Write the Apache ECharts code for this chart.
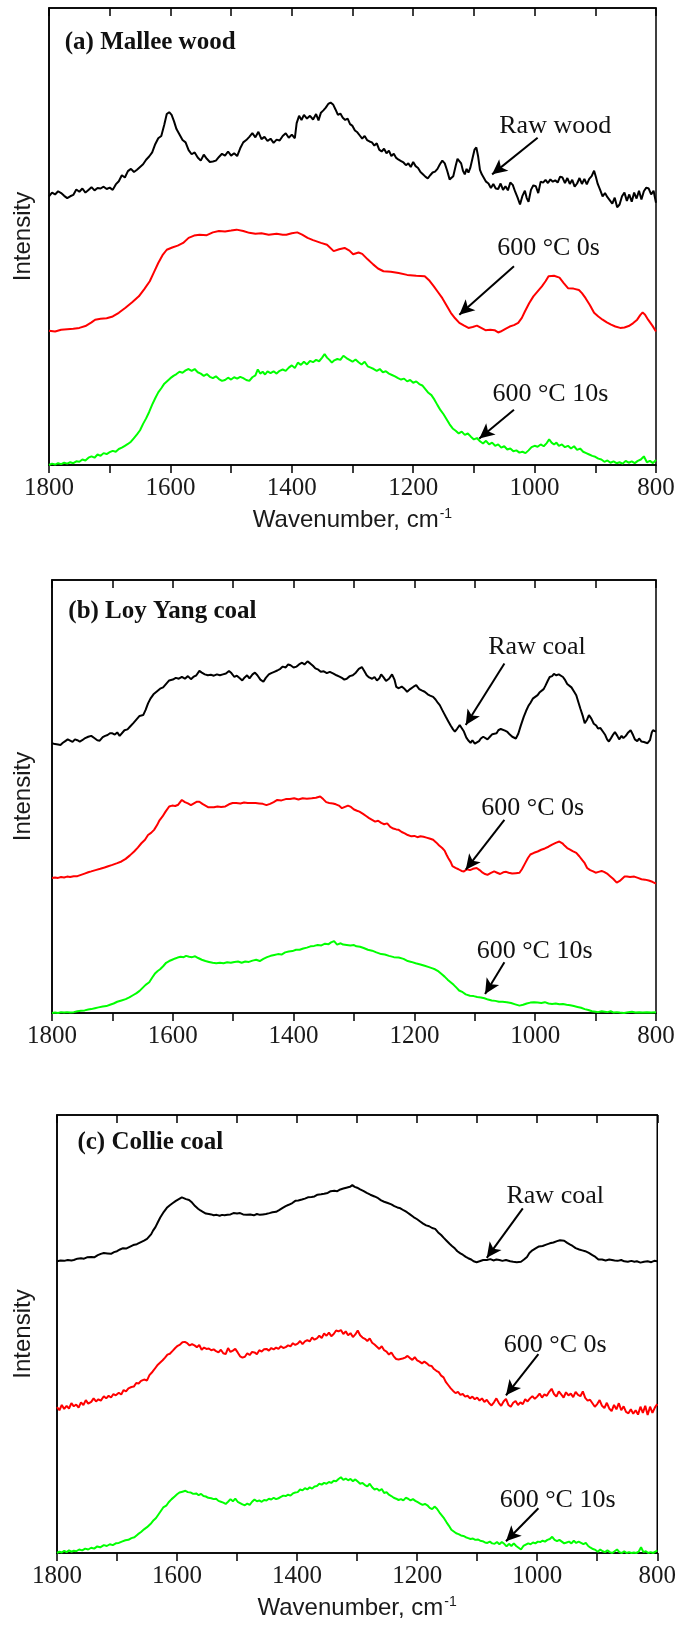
<!DOCTYPE html>
<html><head><meta charset="utf-8">
<script src="https://cdn.jsdelivr.net/npm/echarts@6/dist/echarts.min.js"></script>
<style>html,body{margin:0;padding:0;background:#fff}#c{width:679px;height:1625px}</style>
</head><body><div id="c"></div>
<script>
// ---------- DATA ([wavenumber, offset intensity]) ----------
const panelTitles = ['(a) Mallee wood', '(b) Loy Yang coal', '(c) Collie coal'];
const seriesNamesA = ['Raw wood', '600 °C 0s', '600 °C 10s'];
const seriesNamesBC = ['Raw coal', '600 °C 0s', '600 °C 10s'];
const xTicks = [1800, 1600, 1400, 1200, 1000, 800];
const xTitle = 'Wavenumber, cm';
const yTitle = 'Intensity';

const aRaw = [[1800,58.8],[1795,59.6],[1790,59.2],[1785,59.9],[1780,59.5],[1775,58.9],[1770,58.4],[1765,58.8],[1760,59.1],[1755,60.3],[1750,59.8],[1745,60.5],[1740,59.6],[1735,60.2],[1730,60.8],[1725,60.1],[1720,60.6],[1715,60.5],[1710,60.9],[1705,60.4],[1700,60.7],[1695,60.2],[1690,61.4],[1685,62.1],[1680,63.4],[1675,62.9],[1670,64.3],[1665,64.8],[1660,64.1],[1655,64.6],[1650,65.2],[1645,65.8],[1640,66.8],[1635,67.5],[1630,68.4],[1625,70.2],[1620,71.5],[1615,72.0],[1610,74.5],[1606,76.8],[1602,77.2],[1598,76.6],[1594,75.2],[1590,73.5],[1585,72.3],[1580,71.1],[1575,70.6],[1570,68.9],[1565,68.0],[1560,68.4],[1555,67.3],[1550,66.6],[1545,67.9],[1540,67.0],[1535,66.3],[1530,66.4],[1525,66.6],[1520,67.4],[1515,68.1],[1510,67.7],[1505,68.6],[1500,67.7],[1495,68.2],[1490,67.6],[1485,69.3],[1480,70.6],[1475,71.1],[1470,71.8],[1465,72.6],[1460,71.7],[1455,72.9],[1450,71.3],[1445,71.8],[1440,70.9],[1435,71.4],[1430,70.5],[1425,71.2],[1420,71.0],[1415,72.0],[1410,72.6],[1405,71.6],[1400,72.3],[1395,71.5],[1392,74.8],[1388,76.4],[1384,75.5],[1380,76.6],[1375,75.8],[1370,76.4],[1365,75.6],[1360,76.8],[1356,75.4],[1352,77.1],[1348,77.6],[1344,78.2],[1340,79.0],[1336,79.3],[1332,78.9],[1328,77.8],[1324,76.6],[1320,76.9],[1316,76.0],[1312,75.5],[1308,75.8],[1304,74.6],[1300,74.2],[1296,73.2],[1292,72.8],[1288,72.1],[1284,71.4],[1280,72.0],[1276,71.1],[1272,70.8],[1268,70.6],[1264,69.9],[1260,70.4],[1256,69.0],[1252,68.6],[1248,69.2],[1244,68.2],[1240,68.8],[1236,67.6],[1232,68.1],[1228,67.2],[1224,66.8],[1220,66.5],[1216,66.2],[1212,65.6],[1208,66.0],[1204,65.2],[1200,66.3],[1196,65.4],[1192,65.0],[1188,64.1],[1184,63.6],[1180,63.1],[1176,62.7],[1172,63.4],[1168,64.0],[1164,64.2],[1160,64.8],[1156,65.8],[1152,66.6],[1148,66.0],[1144,64.4],[1140,62.5],[1137,62.1],[1134,63.2],[1130,65.5],[1127,67.0],[1124,67.4],[1121,66.0],[1118,64.4],[1115,63.6],[1112,64.8],[1109,64.0],[1106,65.0],[1102,67.3],[1099,69.0],[1096,69.5],[1093,67.5],[1090,64.6],[1087,63.6],[1084,63.2],[1080,62.0],[1076,61.6],[1072,60.6],[1068,61.5],[1064,60.5],[1060,60.4],[1056,61.6],[1052,60.2],[1048,61.0],[1044,60.1],[1040,61.8],[1036,61.3],[1032,59.8],[1028,58.5],[1024,57.0],[1020,58.9],[1016,60.0],[1013,58.4],[1010,57.6],[1006,60.2],[1002,61.2],[998,61.0],[994,59.5],[990,62.0],[986,61.8],[982,62.4],[978,61.7],[974,62.5],[970,62.0],[966,62.3],[962,61.8],[958,63.1],[954,62.9],[950,61.7],[946,62.8],[942,61.5],[938,62.4],[934,60.9],[930,61.6],[926,62.8],[922,61.5],[918,62.6],[914,61.4],[910,62.6],[906,63.2],[902,64.4],[899,63.0],[896,61.5],[892,60.2],[888,58.8],[884,59.5],[880,58.6],[876,57.9],[872,57.2],[868,58.5],[864,56.4],[860,57.0],[856,58.8],[852,59.6],[848,57.8],[844,59.2],[840,57.6],[836,59.6],[832,58.3],[828,60.0],[824,58.1],[820,59.9],[816,60.7],[812,60.5],[808,59.2],[804,60.0],[800,57.4]];
const a0s = [[1800,29.4],[1790,29.2],[1780,29.6],[1770,29.7],[1760,29.8],[1750,30.0],[1740,30.4],[1730,31.2],[1724,31.8],[1715,32.0],[1705,32.1],[1695,32.5],[1685,33.3],[1674,34.4],[1663,35.6],[1652,36.9],[1643,38.5],[1634,40.2],[1627,42.2],[1620,44.2],[1613,45.9],[1606,47.1],[1597,47.6],[1588,48.0],[1579,48.6],[1570,49.7],[1561,50.2],[1552,50.4],[1540,50.3],[1530,50.9],[1520,51.2],[1510,51.1],[1500,51.3],[1491,51.5],[1480,51.2],[1470,50.8],[1460,50.6],[1450,50.7],[1438,50.4],[1425,50.6],[1415,50.4],[1409,50.4],[1400,50.7],[1391,50.9],[1383,50.4],[1374,49.7],[1365,49.2],[1352,48.6],[1342,48.2],[1331,46.8],[1322,47.2],[1313,47.5],[1305,46.9],[1299,46.1],[1290,46.5],[1284,46.2],[1275,45.0],[1266,43.9],[1258,43.0],[1249,42.4],[1237,42.3],[1224,42.0],[1210,41.6],[1195,41.4],[1181,41.3],[1173,40.3],[1166,39.1],[1159,37.8],[1152,36.5],[1145,34.9],[1138,33.3],[1131,32.1],[1124,31.1],[1116,30.5],[1109,30.0],[1102,30.2],[1095,30.5],[1088,30.0],[1081,29.5],[1073,29.6],[1066,29.5],[1060,29.0],[1056,29.2],[1048,29.8],[1041,30.3],[1034,30.6],[1027,31.1],[1021,32.2],[1016,33.6],[1009,35.4],[1002,36.9],[995,38.0],[988,39.1],[982,40.2],[977,41.3],[968,41.4],[959,41.0],[952,39.8],[945,38.7],[936,38.6],[927,38.3],[922,37.6],[916,36.5],[909,35.0],[902,33.3],[895,32.5],[888,31.8],[881,31.2],[874,30.7],[867,30.3],[859,30.0],[852,30.1],[845,30.4],[838,31.0],[831,31.8],[826,32.8],[822,33.4],[818,32.9],[813,31.8],[806,30.5],[800,29.2]];
const a10s = [[1800,0.0],[1795,0.3],[1790,0.1],[1785,0.4],[1780,0.2],[1775,0.5],[1770,0.3],[1765,0.6],[1760,0.4],[1755,0.8],[1750,0.7],[1745,1.2],[1740,1.0],[1735,1.6],[1730,1.9],[1725,1.6],[1720,2.3],[1715,2.0],[1710,2.6],[1705,2.4],[1700,2.8],[1695,3.1],[1690,2.9],[1685,3.5],[1680,3.8],[1675,4.2],[1670,4.6],[1665,5.1],[1660,5.9],[1655,6.7],[1650,7.6],[1645,9.0],[1640,10.2],[1635,11.6],[1630,13.2],[1625,14.6],[1620,15.9],[1615,16.8],[1610,17.8],[1605,18.4],[1600,19.0],[1595,19.5],[1590,19.9],[1585,20.4],[1580,20.2],[1575,20.7],[1570,21.0],[1565,20.6],[1560,21.0],[1555,20.3],[1550,20.0],[1545,19.5],[1540,19.9],[1535,19.3],[1530,19.0],[1525,19.4],[1520,18.8],[1515,18.4],[1510,18.6],[1505,19.1],[1500,18.7],[1495,19.2],[1490,18.9],[1485,19.3],[1480,19.0],[1475,18.6],[1470,18.4],[1465,19.2],[1460,19.6],[1456,20.9],[1452,20.0],[1448,20.4],[1444,19.8],[1440,20.5],[1435,20.1],[1430,20.5],[1425,20.0],[1420,20.6],[1415,20.9],[1410,20.6],[1405,21.3],[1400,21.8],[1395,21.2],[1390,22.4],[1385,21.9],[1380,22.6],[1375,22.0],[1370,22.8],[1365,22.5],[1360,23.0],[1355,22.7],[1350,23.5],[1346,24.3],[1342,23.5],[1338,23.0],[1334,22.4],[1330,22.9],[1325,23.2],[1320,23.0],[1315,23.9],[1310,23.4],[1305,23.0],[1300,22.6],[1295,23.1],[1290,22.5],[1285,22.0],[1280,22.6],[1275,21.6],[1270,21.3],[1265,21.0],[1260,20.6],[1255,21.0],[1250,20.3],[1245,20.5],[1240,20.0],[1235,19.7],[1230,19.4],[1225,19.0],[1220,18.7],[1215,18.9],[1210,18.3],[1205,18.6],[1200,18.0],[1195,18.3],[1190,17.7],[1185,17.4],[1180,16.6],[1175,15.8],[1170,15.3],[1165,14.3],[1160,13.1],[1155,12.0],[1150,11.1],[1145,10.0],[1140,8.9],[1135,8.0],[1130,7.5],[1125,6.9],[1120,7.3],[1115,6.6],[1110,6.9],[1105,6.2],[1100,5.6],[1095,5.9],[1090,5.2],[1085,4.7],[1080,5.3],[1075,4.5],[1070,4.9],[1065,4.2],[1060,4.5],[1055,3.8],[1050,4.1],[1045,3.4],[1040,3.6],[1035,3.0],[1030,3.2],[1025,2.7],[1020,2.9],[1015,2.6],[1010,3.2],[1005,3.9],[1000,4.2],[995,4.0],[990,4.5],[985,4.1],[980,4.8],[976,5.6],[972,4.9],[968,4.5],[964,4.9],[960,4.2],[955,4.5],[950,3.9],[945,4.2],[940,3.6],[935,4.1],[930,3.3],[925,3.6],[920,2.9],[915,2.6],[910,2.3],[905,2.0],[900,1.8],[895,1.4],[890,1.2],[885,0.7],[880,1.0],[875,0.5],[870,0.8],[865,0.4],[860,0.6],[855,0.3],[850,0.9],[845,0.5],[840,0.8],[835,0.4],[830,0.9],[825,1.2],[820,1.9],[815,0.6],[810,0.9],[805,0.4],[800,1.1]];

const bRaw = [[1800,62.3],[1795,62.1],[1790,62.0],[1786,61.9],[1782,62.4],[1778,62.8],[1774,63.2],[1770,62.9],[1766,62.6],[1762,63.2],[1758,63.0],[1754,62.7],[1750,63.0],[1745,63.5],[1740,63.8],[1735,64.0],[1730,63.5],[1725,63.0],[1721,62.9],[1716,63.7],[1712,64.0],[1708,64.2],[1704,64.6],[1700,64.6],[1696,64.3],[1692,64.8],[1688,64.0],[1685,64.2],[1680,65.3],[1675,65.5],[1671,66.1],[1665,67.0],[1660,67.8],[1655,68.6],[1649,68.8],[1645,70.0],[1641,71.5],[1637,72.6],[1632,73.6],[1627,74.2],[1621,74.9],[1616,75.2],[1611,76.0],[1606,76.8],[1600,77.0],[1595,77.4],[1590,77.2],[1585,77.6],[1580,77.2],[1575,77.8],[1570,77.1],[1566,77.6],[1561,78.0],[1556,79.0],[1552,78.6],[1547,78.2],[1542,78.0],[1537,78.1],[1532,77.9],[1527,78.2],[1522,78.0],[1517,78.2],[1512,78.4],[1507,79.0],[1503,78.5],[1498,77.6],[1494,77.9],[1490,77.4],[1485,76.8],[1481,77.5],[1477,78.0],[1473,77.3],[1468,78.2],[1464,78.6],[1460,78.0],[1455,77.0],[1450,76.5],[1446,77.4],[1441,78.2],[1437,78.5],[1432,78.8],[1427,79.1],[1422,79.5],[1418,80.0],[1413,79.8],[1409,80.5],[1405,80.3],[1400,79.8],[1395,80.0],[1391,80.5],[1386,80.9],[1382,80.5],[1377,81.2],[1373,80.8],[1368,80.2],[1364,79.6],[1359,79.3],[1355,78.8],[1350,78.9],[1345,78.5],[1340,78.8],[1334,78.4],[1329,78.0],[1324,77.7],[1320,77.4],[1316,77.0],[1312,77.2],[1307,77.8],[1302,78.0],[1297,78.6],[1292,79.5],[1287,79.9],[1283,79.0],[1279,78.0],[1275,77.5],[1270,77.2],[1266,77.6],[1262,76.8],[1258,77.3],[1255,78.2],[1251,77.5],[1247,76.7],[1242,77.2],[1237,78.2],[1233,77.0],[1230,75.3],[1226,75.0],[1221,75.4],[1216,74.8],[1212,74.2],[1207,74.8],[1202,75.3],[1197,75.7],[1192,74.8],[1188,74.5],[1183,74.2],[1178,73.6],[1174,73.3],[1169,73.0],[1165,72.4],[1161,71.6],[1158,71.1],[1154,70.0],[1151,69.2],[1148,68.4],[1144,67.4],[1140,66.4],[1136,65.5],[1133,65.0],[1129,65.7],[1125,66.5],[1122,66.5],[1118,65.0],[1114,63.6],[1111,63.0],[1107,62.4],[1104,63.0],[1100,62.2],[1097,61.9],[1093,62.8],[1090,63.4],[1086,63.8],[1083,64.2],[1079,63.2],[1075,63.8],[1071,64.4],[1068,64.0],[1064,64.6],[1061,65.3],[1057,65.6],[1054,65.7],[1050,65.2],[1046,64.9],[1042,64.3],[1038,63.8],[1035,63.4],[1032,63.4],[1028,64.5],[1024,66.3],[1019,68.4],[1015,69.8],[1011,71.0],[1008,71.6],[1004,72.6],[1000,73.0],[996,73.4],[993,74.0],[990,74.2],[986,74.8],[983,75.6],[979,76.8],[976,77.6],[972,77.8],[969,78.3],[965,78.0],[961,78.2],[958,78.4],[954,77.6],[951,77.0],[947,76.0],[944,75.6],[940,75.2],[936,74.3],[932,73.4],[929,72.0],[925,70.2],[921,68.5],[918,66.9],[914,67.8],[911,68.8],[907,68.0],[903,66.8],[899,66.4],[896,65.7],[892,65.8],[888,65.0],[884,64.2],[881,63.2],[878,62.7],[874,63.6],[871,64.3],[868,64.9],[864,64.0],[861,63.2],[857,64.0],[854,63.5],[850,64.0],[846,64.8],[842,65.3],[838,64.2],[835,63.2],[831,62.8],[828,63.4],[824,62.7],[820,62.6],[817,62.3],[814,62.3],[810,63.0],[807,64.8],[805,65.3],[800,65.0]];
const b0s = [[1800,31.2],[1795,31.3],[1790,31.2],[1785,31.4],[1780,31.3],[1775,31.5],[1770,31.4],[1764,31.6],[1758,31.6],[1752,31.9],[1746,32.2],[1740,32.5],[1735,32.7],[1728,33.0],[1720,33.3],[1713,33.6],[1707,33.9],[1700,34.2],[1692,34.6],[1685,35.0],[1678,35.6],[1671,36.4],[1664,37.3],[1658,38.2],[1652,39.2],[1646,40.0],[1641,41.1],[1636,41.6],[1631,42.3],[1626,43.4],[1622,44.5],[1617,45.4],[1612,46.5],[1606,47.7],[1601,47.9],[1596,47.8],[1591,48.1],[1588,47.8],[1585,49.2],[1580,48.7],[1575,48.4],[1570,48.0],[1565,48.4],[1560,48.8],[1556,48.8],[1551,48.3],[1546,47.9],[1541,47.5],[1538,47.3],[1532,47.5],[1526,47.7],[1520,47.6],[1513,47.7],[1507,48.2],[1501,48.5],[1495,48.5],[1488,48.4],[1482,48.6],[1476,48.5],[1470,48.5],[1463,48.5],[1457,48.4],[1451,48.3],[1445,48.0],[1439,48.3],[1433,48.7],[1427,49.2],[1420,49.1],[1413,49.4],[1406,49.4],[1399,49.6],[1392,49.3],[1385,49.6],[1378,49.5],[1370,49.6],[1363,49.7],[1356,50.0],[1351,49.4],[1346,48.7],[1341,48.5],[1335,48.4],[1330,48.2],[1325,47.9],[1320,47.3],[1315,47.6],[1310,47.9],[1305,47.6],[1300,47.0],[1295,46.7],[1291,46.5],[1285,46.0],[1280,45.5],[1275,45.0],[1270,44.6],[1265,44.2],[1260,44.4],[1255,43.9],[1250,43.6],[1245,43.8],[1240,43.0],[1235,42.6],[1230,42.4],[1226,42.3],[1221,41.8],[1216,41.5],[1211,41.1],[1205,40.8],[1200,40.9],[1195,40.6],[1190,40.8],[1185,40.7],[1180,40.5],[1175,40.3],[1169,40.0],[1164,39.4],[1159,38.7],[1154,38.1],[1150,37.5],[1147,36.6],[1144,35.8],[1140,34.9],[1137,33.9],[1132,33.5],[1127,33.2],[1122,32.8],[1118,32.7],[1113,33.2],[1108,33.0],[1103,33.3],[1097,33.5],[1092,33.0],[1087,32.4],[1083,32.1],[1079,31.9],[1074,32.3],[1068,32.7],[1063,32.4],[1058,32.1],[1053,32.5],[1048,32.6],[1044,32.4],[1038,32.2],[1032,32.3],[1026,32.4],[1022,33.2],[1017,34.5],[1012,35.8],[1008,36.6],[1002,37.0],[996,37.3],[990,37.7],[984,38.0],[978,38.4],[972,38.9],[966,39.3],[960,39.6],[955,39.2],[951,38.6],[947,38.1],[943,37.8],[938,37.4],[932,37.0],[927,36.2],[922,35.3],[918,34.6],[914,33.5],[909,33.0],[904,32.7],[900,32.4],[895,32.6],[890,32.8],[886,32.6],[881,32.2],[876,31.6],[871,31.0],[865,30.1],[860,30.5],[856,31.0],[852,31.5],[848,31.5],[843,31.4],[836,31.5],[830,31.2],[824,30.9],[818,30.8],[812,30.6],[806,30.3],[800,29.9]];
const b10s = [[1800,0.0],[1795,0.1],[1790,0.0],[1785,0.2],[1780,0.1],[1775,0.2],[1770,0.1],[1764,0.2],[1758,0.4],[1752,0.5],[1746,0.6],[1740,0.8],[1735,0.9],[1729,1.1],[1723,1.3],[1716,1.5],[1710,1.6],[1704,1.9],[1698,2.2],[1692,2.6],[1685,2.9],[1678,3.2],[1672,3.6],[1666,4.1],[1660,4.6],[1655,5.1],[1650,5.8],[1645,6.5],[1639,7.1],[1634,8.2],[1629,9.2],[1625,9.7],[1621,10.1],[1616,10.8],[1611,11.6],[1606,12.0],[1601,12.3],[1596,12.6],[1592,12.8],[1587,13.0],[1582,12.9],[1578,13.2],[1573,13.0],[1568,12.9],[1563,13.1],[1558,12.7],[1552,12.3],[1546,12.0],[1540,11.8],[1534,11.6],[1528,11.5],[1522,11.6],[1516,11.5],[1510,11.7],[1504,11.6],[1498,11.8],[1492,11.9],[1486,11.6],[1480,11.9],[1474,11.8],[1468,12.1],[1462,12.3],[1456,12.0],[1450,12.5],[1444,12.9],[1438,13.2],[1432,13.4],[1426,13.6],[1420,13.5],[1414,14.0],[1408,14.2],[1402,14.3],[1396,14.6],[1390,14.6],[1384,14.9],[1378,15.1],[1372,15.4],[1366,15.5],[1360,15.7],[1354,15.6],[1348,16.0],[1342,15.9],[1338,16.3],[1333,16.6],[1328,15.8],[1322,16.1],[1318,15.8],[1312,15.7],[1306,15.6],[1300,15.7],[1296,15.4],[1290,15.3],[1284,15.0],[1277,14.6],[1270,14.4],[1263,14.0],[1255,13.6],[1249,13.5],[1242,13.2],[1234,12.9],[1226,12.8],[1218,12.5],[1211,12.0],[1205,11.8],[1198,11.5],[1190,11.2],[1183,10.9],[1176,10.6],[1170,10.3],[1166,10.1],[1160,9.6],[1155,9.0],[1150,8.4],[1145,7.7],[1140,7.1],[1135,6.5],[1130,5.8],[1126,5.2],[1120,4.8],[1115,4.3],[1108,4.0],[1102,3.9],[1096,3.7],[1090,3.6],[1084,3.4],[1078,3.1],[1072,2.9],[1066,2.8],[1060,2.6],[1054,2.6],[1047,2.5],[1040,2.3],[1033,2.0],[1026,1.7],[1020,1.9],[1014,2.2],[1008,2.4],[1002,2.5],[996,2.4],[990,2.3],[984,2.5],[978,2.2],[972,2.1],[966,2.2],[960,2.0],[954,2.1],[948,1.9],[942,1.8],[936,1.6],[930,1.4],[924,1.2],[918,0.9],[912,0.7],[906,0.4],[900,0.3],[896,0.2],[890,0.4],[885,0.3],[880,0.2],[875,0.4],[870,0.1],[865,0.2],[860,0.1],[853,0.0],[846,0.2],[840,0.3],[834,0.1],[828,0.2],[822,0.1],[815,0.2],[808,0.1],[800,0.2]];

const cRaw = [[1800,66.6],[1794,66.8],[1788,66.7],[1782,66.9],[1776,66.8],[1772,66.9],[1766,67.2],[1760,67.3],[1755,67.2],[1750,67.5],[1743,67.6],[1738,67.5],[1732,68.0],[1727,68.3],[1722,68.5],[1716,68.4],[1710,68.3],[1705,68.7],[1700,68.9],[1695,69.3],[1690,69.6],[1685,69.5],[1679,69.9],[1673,70.3],[1667,70.5],[1661,70.9],[1655,71.3],[1650,71.7],[1647,72.0],[1643,72.8],[1640,73.6],[1636,74.4],[1632,75.5],[1628,76.6],[1622,77.9],[1617,78.8],[1612,79.4],[1607,79.9],[1602,80.4],[1597,80.8],[1592,81.2],[1589,81.0],[1585,80.8],[1580,80.6],[1575,80.0],[1570,79.2],[1565,78.6],[1561,78.2],[1557,77.9],[1552,77.5],[1547,77.4],[1543,77.3],[1539,77.1],[1534,77.2],[1529,77.0],[1525,77.2],[1521,77.1],[1516,77.2],[1511,77.3],[1506,77.6],[1500,77.5],[1495,77.6],[1490,77.3],[1484,77.2],[1478,77.3],[1472,77.1],[1467,77.4],[1462,77.2],[1457,77.3],[1452,77.4],[1446,77.6],[1441,77.8],[1435,77.9],[1430,78.3],[1424,78.8],[1419,79.2],[1414,79.5],[1408,79.9],[1403,80.4],[1398,80.5],[1392,80.7],[1387,80.9],[1382,81.2],[1376,81.3],[1371,81.4],[1366,81.8],[1360,81.9],[1355,82.0],[1349,82.2],[1344,82.6],[1338,82.7],[1333,82.6],[1328,83.0],[1323,83.2],[1318,83.4],[1312,83.6],[1308,84.0],[1304,83.6],[1300,83.4],[1295,83.0],[1289,82.6],[1284,82.2],[1278,81.8],[1271,81.4],[1265,81.0],[1260,80.5],[1255,80.2],[1249,79.9],[1243,79.6],[1238,79.2],[1233,78.9],[1228,78.7],[1222,78.2],[1217,77.8],[1212,77.3],[1206,76.7],[1200,76.2],[1195,75.7],[1190,75.2],[1185,74.8],[1180,74.6],[1175,74.2],[1170,74.0],[1165,73.2],[1160,72.6],[1156,72.0],[1151,71.3],[1146,70.6],[1142,70.1],[1137,69.5],[1133,68.9],[1128,68.4],[1124,68.1],[1119,67.6],[1115,67.3],[1110,67.0],[1106,66.6],[1101,66.4],[1096,66.6],[1090,66.9],[1084,66.9],[1078,67.1],[1073,66.8],[1068,67.0],[1063,66.9],[1058,66.7],[1052,66.9],[1045,66.6],[1040,66.5],[1034,66.4],[1027,66.5],[1022,67.0],[1017,67.6],[1013,68.5],[1008,69.1],[1002,69.6],[997,70.0],[991,70.1],[985,70.4],[979,70.7],[973,70.9],[967,71.2],[962,71.4],[959,71.7],[955,71.3],[950,70.8],[945,70.4],[941,70.1],[936,69.6],[930,69.3],[925,69.1],[920,68.9],[914,68.5],[908,68.0],[903,67.6],[898,67.0],[892,67.0],[886,66.8],[880,67.0],[877,67.2],[871,66.8],[866,66.7],[860,66.9],[855,66.6],[849,66.5],[843,66.7],[838,66.5],[834,66.6],[828,66.3],[822,66.5],[816,66.6],[810,66.4],[805,66.7],[800,66.6]];
const c0s = [[1800,33.3],[1796,32.6],[1792,33.8],[1788,32.9],[1784,33.6],[1780,33.0],[1776,34.2],[1772,33.5],[1768,33.9],[1764,33.2],[1760,34.4],[1756,33.8],[1752,34.9],[1748,34.1],[1743,34.5],[1739,35.3],[1735,34.6],[1731,35.1],[1727,34.8],[1722,35.8],[1718,35.3],[1714,35.9],[1710,35.5],[1706,36.3],[1702,36.0],[1697,36.6],[1693,36.2],[1689,37.2],[1685,36.9],[1681,37.6],[1676,37.9],[1672,38.0],[1668,38.8],[1664,38.7],[1660,39.3],[1655,39.6],[1650,39.4],[1646,40.6],[1642,41.2],[1638,41.9],[1636,42.3],[1632,43.0],[1628,43.5],[1624,44.0],[1620,44.6],[1616,45.3],[1612,45.5],[1607,46.2],[1603,46.8],[1599,47.3],[1595,47.6],[1591,48.1],[1587,48.2],[1583,47.9],[1579,47.4],[1575,47.7],[1571,47.4],[1567,47.0],[1563,47.5],[1559,46.4],[1555,46.9],[1551,46.6],[1547,46.7],[1543,46.3],[1539,46.5],[1535,46.1],[1531,45.8],[1527,46.4],[1523,45.6],[1519,45.4],[1515,46.8],[1511,45.9],[1507,46.2],[1503,46.6],[1499,45.8],[1495,44.9],[1491,44.6],[1487,44.8],[1483,45.6],[1479,45.2],[1475,45.9],[1471,45.8],[1467,45.4],[1463,46.3],[1459,46.0],[1455,46.5],[1451,46.6],[1447,46.2],[1443,46.8],[1439,46.5],[1435,46.9],[1431,46.6],[1427,47.2],[1423,46.8],[1419,47.0],[1415,47.4],[1411,47.2],[1407,47.9],[1403,47.5],[1399,47.8],[1395,48.4],[1391,47.7],[1387,48.3],[1383,48.6],[1379,48.3],[1375,49.2],[1371,48.7],[1367,49.0],[1363,49.6],[1359,49.1],[1355,50.1],[1351,49.6],[1347,50.3],[1343,49.5],[1339,50.0],[1335,50.8],[1331,50.6],[1327,50.9],[1323,50.0],[1319,50.6],[1315,49.7],[1311,50.2],[1307,49.3],[1303,49.9],[1299,50.8],[1295,49.7],[1291,49.2],[1287,48.9],[1283,48.4],[1279,49.0],[1275,48.0],[1271,47.6],[1267,47.1],[1263,46.6],[1259,47.2],[1255,46.3],[1251,46.0],[1247,45.3],[1243,45.8],[1239,44.9],[1235,44.3],[1231,44.2],[1228,43.9],[1224,44.4],[1220,44.6],[1216,45.0],[1212,44.5],[1208,44.1],[1204,44.7],[1200,44.0],[1196,43.7],[1192,43.3],[1188,43.7],[1184,43.3],[1180,42.8],[1176,42.7],[1172,42.0],[1168,41.6],[1164,41.3],[1160,40.5],[1156,40.1],[1152,39.0],[1148,38.3],[1144,37.6],[1140,37.0],[1136,36.5],[1132,36.8],[1128,36.1],[1124,36.3],[1120,35.7],[1116,35.9],[1112,35.3],[1108,35.7],[1104,35.1],[1100,35.5],[1096,34.8],[1092,35.3],[1088,34.5],[1084,35.0],[1080,34.2],[1076,33.7],[1072,34.4],[1068,35.3],[1064,34.3],[1060,33.6],[1056,34.6],[1052,35.2],[1048,33.8],[1044,33.4],[1040,34.3],[1036,34.7],[1032,33.8],[1028,34.4],[1024,34.0],[1020,35.1],[1016,34.6],[1012,35.3],[1008,35.8],[1004,35.2],[1000,35.7],[996,36.4],[992,35.5],[988,36.2],[984,35.9],[980,36.8],[976,37.5],[972,36.3],[968,35.7],[964,36.9],[960,36.2],[956,35.5],[952,36.7],[948,36.0],[944,36.4],[940,35.6],[936,36.8],[932,36.1],[928,35.8],[924,36.9],[920,35.4],[916,34.8],[912,35.0],[908,34.2],[904,33.4],[900,34.0],[896,34.9],[892,33.6],[888,33.1],[884,34.3],[880,33.0],[876,32.4],[872,33.8],[868,32.8],[864,34.2],[860,32.6],[856,33.5],[852,32.2],[848,31.9],[844,32.8],[840,31.8],[836,32.6],[832,31.6],[828,33.4],[824,32.0],[820,33.6],[816,31.5],[812,33.4],[808,32.0],[804,33.2],[800,34.0]];
const c10s = [[1800,0.0],[1796,0.3],[1792,0.1],[1788,0.5],[1784,0.2],[1780,0.6],[1776,0.3],[1772,0.5],[1768,0.4],[1763,0.8],[1758,0.6],[1753,1.0],[1748,0.8],[1743,1.2],[1738,1.0],[1733,1.5],[1728,1.3],[1722,1.8],[1717,1.6],[1712,2.0],[1707,1.8],[1702,2.2],[1697,2.3],[1692,2.6],[1686,2.9],[1681,3.0],[1676,3.4],[1671,3.6],[1665,4.3],[1660,4.8],[1655,5.4],[1650,5.9],[1647,5.9],[1643,6.8],[1639,7.5],[1635,8.0],[1631,8.8],[1627,9.6],[1623,10.4],[1618,10.8],[1614,11.6],[1609,12.3],[1604,12.9],[1600,13.4],[1596,13.8],[1591,14.0],[1586,14.2],[1582,13.9],[1577,13.8],[1573,13.5],[1568,13.6],[1564,13.2],[1560,13.5],[1556,13.0],[1552,12.9],[1548,12.6],[1543,12.5],[1539,12.3],[1535,12.4],[1531,11.9],[1527,11.7],[1523,11.5],[1519,11.2],[1515,11.7],[1511,12.3],[1507,11.8],[1503,12.4],[1499,11.7],[1495,11.4],[1491,11.1],[1487,10.9],[1483,11.3],[1479,11.0],[1475,11.7],[1471,12.2],[1467,11.8],[1463,12.0],[1459,11.7],[1455,12.1],[1451,12.0],[1447,12.4],[1443,12.2],[1439,12.6],[1435,12.3],[1431,12.5],[1427,12.8],[1423,13.1],[1419,13.0],[1415,13.3],[1411,13.1],[1407,13.6],[1403,13.8],[1399,13.9],[1395,14.5],[1391,14.3],[1387,14.8],[1383,14.5],[1379,15.0],[1375,14.7],[1371,15.2],[1367,15.3],[1363,15.8],[1359,15.6],[1355,16.0],[1351,15.8],[1347,16.2],[1343,16.0],[1339,16.5],[1335,16.4],[1331,16.9],[1327,17.3],[1323,16.7],[1319,17.0],[1315,16.6],[1311,16.9],[1307,16.4],[1303,16.8],[1299,16.3],[1295,15.8],[1291,16.0],[1287,15.5],[1283,15.2],[1279,15.8],[1275,15.0],[1271,14.5],[1267,14.7],[1263,14.2],[1259,14.6],[1255,13.7],[1251,13.9],[1247,13.3],[1243,13.0],[1239,12.6],[1235,12.4],[1231,12.1],[1227,12.3],[1223,12.0],[1219,12.6],[1215,12.4],[1211,12.0],[1207,12.3],[1203,11.9],[1199,11.6],[1195,11.3],[1191,11.0],[1187,11.2],[1183,10.9],[1179,10.3],[1175,10.0],[1171,10.6],[1167,10.1],[1163,9.3],[1159,8.6],[1155,7.9],[1151,7.0],[1147,6.2],[1143,5.3],[1139,4.9],[1135,4.5],[1131,4.3],[1127,4.0],[1123,3.9],[1119,3.6],[1115,3.4],[1111,3.2],[1107,3.3],[1103,3.0],[1099,3.1],[1095,2.8],[1091,2.7],[1087,2.4],[1083,2.3],[1079,2.6],[1075,2.2],[1071,2.1],[1067,2.5],[1063,2.0],[1059,2.5],[1055,2.1],[1051,1.5],[1047,2.1],[1043,1.6],[1039,2.2],[1035,1.6],[1031,1.2],[1027,0.8],[1023,1.6],[1019,1.9],[1015,2.2],[1011,2.0],[1007,2.4],[1003,2.2],[999,2.6],[995,2.5],[991,2.8],[987,2.6],[983,3.0],[979,3.2],[975,3.7],[971,3.0],[967,2.7],[963,3.0],[959,2.6],[955,2.2],[951,2.4],[947,2.6],[943,2.2],[939,2.8],[935,2.3],[931,2.6],[927,2.3],[923,2.0],[919,2.3],[915,1.6],[911,1.2],[907,0.9],[903,0.7],[899,0.3],[895,0.8],[891,0.4],[887,0.2],[883,0.6],[879,0.2],[875,0.0],[871,0.4],[867,0.8],[863,0.2],[859,0.0],[855,0.4],[851,0.0],[847,0.2],[843,0.0],[839,0.1],[835,0.0],[831,0.3],[827,1.3],[823,0.2],[819,0.4],[815,0.0],[811,0.2],[807,0.0],[803,0.3],[800,0.6]];

// annotation anchors in data coordinates: [text pos], [arrow start], [arrow end]
const annA = [[[966,74.2],[995,71.6],[1070,63.6]], [[977,47.5],[1034,43.5],[1124,32.9]], [[974,15.4],[1034,12.1],[1091,5.8]]];
const annB = [[[997,84.5],[1051,80.7],[1115,66.5]], [[1004,47.3],[1051,44.6],[1115,33.1]], [[1001,14.3],[1051,11.7],[1083,4.4]]];
const annC = [[[970,81.4],[1024,78.7],[1084,67.4]], [[970,47.4],[998,45.4],[1052,36.0]], [[966,12.1],[998,10.2],[1052,2.7]]];
const titlePos = [[1774,92.5],[1773,92.6],[1766,93.6]];

// ---------- CHART ----------
const colors = ['#000000', '#ff0000', '#00ff00'];
const grids = [
  {left: 49, top: 8, width: 607, height: 457},
  {left: 52, top: 580, width: 604, height: 433},
  {left: 57, top: 1115, width: 604, height: 438}
];
const yNameGap = [14, 17, 22];
const showXName = [true, false, true];
const panels = [
  {data: [aRaw, a0s, a10s], names: seriesNamesA, ann: annA},
  {data: [bRaw, b0s, b10s], names: seriesNamesBC, ann: annB},
  {data: [cRaw, c0s, c10s], names: seriesNamesBC, ann: annC}
];
const serif = '"Liberation Serif","Times New Roman",serif';
const sans = '"Liberation Sans",Arial,sans-serif';

const chart = echarts.init(document.getElementById('c'), null, {renderer: 'canvas'});
const option = {
  animation: false,
  backgroundColor: '#fff',
  grid: grids.map(g => Object.assign({show: true, borderColor: '#000', borderWidth: 1.5, backgroundColor: 'transparent'}, g)),
  xAxis: [], yAxis: [], series: [], graphic: []
};
grids.forEach((g, i) => {
  option.xAxis.push({
    type: 'value', gridIndex: i, min: 800, max: 1800, interval: 100, inverse: true,
    position: 'bottom',
    axisLine: {show: true, onZero: false, lineStyle: {color: '#000', width: 1.5}},
    axisTick: {show: true, inside: false, length: 8, lineStyle: {color: '#000', width: 1.5}},
    splitLine: {show: false},
    axisLabel: {
      show: true, margin: 11, color: '#1a1a1a', fontFamily: serif, fontSize: 25,
      formatter: v => xTicks.indexOf(v) >= 0 ? String(v) : ''
    },
    name: showXName[i] ? '{t|' + xTitle + '}{s|-1}' : '',
    nameLocation: 'middle', nameGap: 42,
    nameTextStyle: {
      rich: {
        t: {fontFamily: sans, fontSize: 24, color: '#1a1a1a'},
        s: {fontFamily: sans, fontSize: 14, color: '#1a1a1a', verticalAlign: 'top', padding: [0, 0, 12, 1]}
      }
    }
  });
  option.xAxis.push({
    type: 'value', gridIndex: i, min: 800, max: 1800, interval: 100, inverse: true,
    position: 'top',
    axisLine: {show: true, onZero: false, lineStyle: {color: '#000', width: 1.5}},
    axisTick: {show: true, inside: true, length: 8, lineStyle: {color: '#000', width: 1.5}},
    axisLabel: {show: false}, splitLine: {show: false}
  });
  option.yAxis.push({
    type: 'value', gridIndex: i, min: 0, max: 100,
    axisLine: {show: true, lineStyle: {color: '#000', width: 1.5}},
    axisTick: {show: false}, axisLabel: {show: false}, splitLine: {show: false},
    name: yTitle, nameLocation: 'middle', nameGap: yNameGap[i], nameRotate: 90,
    nameTextStyle: {fontFamily: sans, fontSize: 24, color: '#1a1a1a'}
  });
  const p = panels[i];
  p.data.forEach((d, k) => {
    const s = {
      type: 'line', name: p.names[k], xAxisIndex: i * 2, yAxisIndex: i,
      data: d, showSymbol: false, symbol: 'none', smooth: false,
      lineStyle: {color: colors[k], width: 2}, silent: true, z: 3
    };
    const a = p.ann[k];
    s.markLine = {
      silent: true, symbol: ['none', 'arrow'], symbolSize: [11, 15],
      label: {show: false},
      lineStyle: {color: '#000', width: 2, type: 'solid'},
      data: [[{coord: a[1]}, {coord: a[2]}]]
    };
    option.series.push(s);
  });
});
chart.setOption(option);

// text annotations positioned via the axes' own conversion
const gfx = [];
panels.forEach((p, i) => {
  const fin = {xAxisIndex: i * 2, yAxisIndex: i};
  p.ann.forEach((a, k) => {
    const pt = chart.convertToPixel(fin, a[0]);
    gfx.push({type: 'text', x: pt[0], y: pt[1], z: 10,
      style: {text: p.names[k], font: '26px ' + serif, fill: '#111', textAlign: 'center', textVerticalAlign: 'middle'}});
  });
  const tp = chart.convertToPixel(fin, titlePos[i]);
  gfx.push({type: 'text', x: tp[0], y: tp[1], z: 10,
    style: {text: panelTitles[i], font: 'bold 25px ' + serif, fill: '#111', textAlign: 'left', textVerticalAlign: 'middle'}});
});
chart.setOption({graphic: gfx});
</script>
</body></html>
